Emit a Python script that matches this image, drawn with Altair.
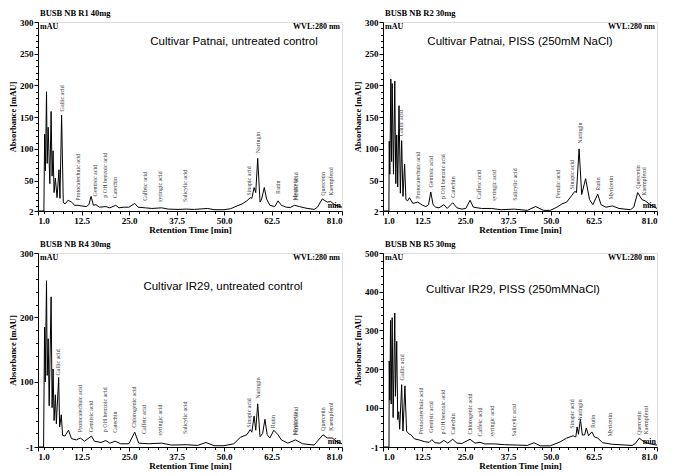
import altair as alt
import pandas as pd

# ---------------- data ----------------
# Top-left: Cultivar Patnai, untreated control
tl_time = [1.0, 2.55, 2.75, 2.95, 3.24, 3.42, 3.68, 4.11, 4.45, 4.71, 4.97, 5.23, 5.57, 6.01, 6.52, 6.78,
           7.21, 7.65, 8.08, 8.94, 9.80, 10.67, 11.53, 12.39, 13.69, 14.38, 14.98, 15.58, 16.28, 17.14,
           18.86, 19.90, 21.45, 22.32, 23.61, 24.91, 26.46, 27.32, 29.22, 30.95, 33.54, 35.26, 37.85,
           40.01, 42.17, 45.62, 47.34, 49.93, 51.66, 53.38, 54.68, 55.97, 56.84, 57.27, 57.87, 58.30,
           58.82, 59.43, 59.86, 60.55, 61.15, 62.02, 63.31, 64.17, 65.04, 66.33, 67.37, 68.49, 69.78,
           71.51, 73.67, 74.53, 75.82, 77.12, 77.98, 79.27, 81.0]
tl_abs = [2, 2, 123, 65, 190, 77, 134, 45, 159, 57, 97, 31, 54, 23, 67, 22,
          153, 16, 13, 19, 16, 11, 11, 10, 9, 12, 25, 11, 12, 8,
          9, 7, 11, 7, 8, 8, 14, 8, 7, 6, 7, 5, 4.5,
          5, 4.5, 6, 4, 4, 5.5, 10, 13, 18, 23, 22, 39, 31,
          85, 16, 21, 39, 21, 11, 9, 18, 11, 8, 7.5, 11, 9,
          6.5, 4.5, 8, 21, 16, 17, 11, 8]
tl_names = ["Gallic acid", "Protocatechuic acid", "Gentisic acid", "p OH benzoic acid", "Catechin",
            "Caffeic acid", "syringic acid", "Salicylic acid", "Sinapic acid", "Naringin", "Rutin",
            "Myricetin", "Ferulic acid", "Quercetin", "Kaempferol"]
tl_lab_t = [7.2, 11.4, 16.1, 18.7, 21.3, 29.2, 33.1, 39.6, 56.6, 59.0, 64.2, 68.6, 68.8, 76.0, 78.0]
tl_lab_y = [159, 18, 25, 23, 22, 18, 16, 16, 26, 93, 29, 18, 18, 26, 26]

# Top-right: Cultivar Patnai, PISS (250mM NaCl)
tr_time = [1.0, 2.72, 2.82, 3.0, 3.29, 3.5, 3.68, 4.06, 4.44, 4.73, 5.01, 5.3, 5.68, 6.07, 6.45, 6.83,
           7.31, 7.69, 8.2, 8.74, 9.70, 11.13, 12.57, 13.52, 14.29, 14.95, 15.62, 16.39, 17.34, 18.78,
           19.73, 21.36, 22.60, 24.03, 25.18, 26.42, 27.38, 29.77, 32.64, 35.50, 39.33, 43.15, 45.54,
           47.93, 49.84, 51.75, 53.19, 54.62, 56.05, 57.01, 57.49, 58.25, 59.01, 60.16, 61.31, 62.27,
           63.70, 64.66, 66.09, 68.0, 69.91, 73.26, 74.21, 75.36, 76.60, 77.56, 78.99, 81.0]
tr_abs = [2, 2, 112, 60, 210, 80, 203, 60, 207, 45, 122, 40, 168, 30, 113, 25,
          76, 20, 18, 23, 14, 16, 11, 9, 12, 32, 12, 8, 7, 12,
          6, 15, 7, 5, 6, 19, 8, 6, 6, 4, 5, 3, 9,
          3, 3, 8, 13, 16, 26, 33, 31, 100, 28, 53, 20, 12,
          28.5, 12, 8, 10, 6, 4, 8, 31, 20, 18, 12, 6]
tr_names = ["Gallic acid", "Protocatechuic acid", "Gentisic acid", "p OH benzoic acid", "Catechin",
            "Caffeic acid", "syringic acid", "Salicylic acid", "Ferulic acid", "Sinapic acid", "Naringin",
            "Rutin", "Myricetin", "Quercetin", "Kaempferol"]
tr_lab_t = [6.35, 11.1, 15.0, 18.6, 21.4, 29.1, 33.3, 39.5, 52.2, 56.2, 58.6, 63.9, 67.7, 75.4, 77.3]
tr_lab_y = [120, 21, 39, 21, 23, 21, 18, 18, 22, 36, 108, 34, 20, 37, 26]

# Bottom-left: Cultivar IR29, untreated control
bl_time = [1.0, 2.47, 2.73, 2.90, 3.24, 3.42, 3.68, 3.94, 4.45, 4.71, 4.97, 5.23, 5.57, 5.83, 6.44, 6.70,
           7.13, 7.48, 8.08, 9.03, 9.80, 11.10, 12.13, 13.26, 15.07, 15.84, 17.57, 18.86, 19.90, 21.28,
           22.75, 24.91, 26.46, 27.49, 30.07, 33.54, 36.13, 40.01, 43.03, 45.19, 47.34, 49.93, 52.52,
           54.25, 55.97, 56.84, 57.27, 57.87, 58.30, 58.82, 59.43, 60.12, 60.72, 61.32, 62.02, 63.05,
           64.17, 65.04, 66.76, 68.75, 70.65, 73.67, 74.53, 76.0, 77.12, 78.41, 79.70, 81.0]
bl_abs = [-1, -1, 185, 100, 257, 110, 167, 63, 232, 60, 120, 40, 80, 35, 107, 30,
          49, 17, 16, 25, 12, 10, 13, 8, 16, 8, 6, 9, 5, 8,
          4, 4, 22, 5, 4, 5, 2, 2.5, 1.5, 6, 1, 1, 4,
          14, 18, 26, 22, 47, 25, 66, 15, 20, 42, 18, 13, 25,
          18, 10, 5, 10, 4, 2, 8, 18, 13, 13, 7, 4]
bl_names = ["Gallic acid", "Protocatechuic acid", "Gentisic acid", "p OH benzoic acid", "Catechin",
            "Chlorogenic acid", "Caffeic acid", "syringic acid", "Salicylic acid", "Sinapic acid",
            "Naringin", "Rutin", "Myricetin", "Ferulic acid", "Quercetin", "Kaempferol"]
bl_lab_t = [6.35, 12.1, 15.0, 18.7, 21.2, 26.2, 29.0, 33.2, 39.6, 56.6, 59.0, 62.9, 68.6, 68.8, 76.0, 78.0]
bl_lab_y = [110, 22, 22, 22, 21, 29, 19, 17, 19, 29, 74, 28, 17, 17, 24, 24]

# Bottom-right: Cultivar IR29, PISS (250mMNaCl)
br_time = [1.0, 2.75, 2.82, 3.0, 3.20, 3.39, 3.68, 3.96, 4.44, 4.63, 5.01, 5.30, 5.59, 5.87, 6.45, 6.83,
           7.40, 7.88, 8.55, 9.22, 10.17, 11.61, 13.04, 14.48, 15.24, 16.20, 17.63, 18.78, 19.92, 21.36,
           22.60, 24.03, 26.42, 27.86, 29.30, 30.73, 33.60, 36.47, 40.29, 43.15, 45.06, 46.97, 49.84,
           52.71, 54.62, 56.53, 57.30, 57.68, 58.06, 58.63, 59.20, 59.87, 60.35, 61.02, 61.98, 62.75,
           63.70, 65.14, 68.01, 71.83, 73.74, 74.69, 75.84, 77.09, 78.52, 81.0]
br_abs = [-1, -1, 221, 120, 326, 110, 333, 75, 345, 130, 272, 70, 90, 45, 160, 40,
          157, 40, 33, 30, 20, 17, 13, 11, 18, 10, 9, 16, 9, 19,
          9, 8, 19, 9, 11, 7, 7, 5, 4, 3, 10, 2, 2,
          12, 22, 28, 25, 51, 32, 71, 30, 30, 48, 28, 38, 25,
          22, 10, 6, 4, 3, 8, 22, 13, 8, 4]
br_names = ["Gallic acid", "Protocatechuic acid", "Gentisic acid", "p OH benzoic acid", "Catechin",
            "Chlorogenic acid", "Caffeic acid", "syringic acid", "Salicylic acid", "Sinapic acid",
            "Naringin", "Rutin", "Myricetin", "Quercetin", "Kaempferol"]
br_lab_t = [6.5, 12.1, 15.0, 18.6, 21.4, 26.4, 29.3, 32.9, 39.3, 56.3, 58.4, 62.3, 67.3, 75.6, 77.8]
br_lab_y = [171, 31, 36, 31, 31, 31, 26, 26, 26, 46, 67, 48, 26, 30, 31]

headers = ["BUSB NB R1 40mg", "BUSB NB R2 30mg", "BUSB NB R4 30mg", "BUSB NB R5 30mg"]
titles = ["Cultivar Patnai, untreated control", "Cultivar Patnai, PISS (250mM NaCl)",
          "Cultivar IR29, untreated control", "Cultivar IR29, PISS (250mMNaCl)"]

x_major = [1.0, 12.5, 25.0, 37.5, 50.0, 62.5, 81.0]
x_minor = [2.5, 5, 7.5, 10, 15, 17.5, 20, 22.5, 27.5, 30, 32.5, 35, 40, 42.5, 45, 47.5,
           52.5, 55, 57.5, 60, 65, 67.5, 70, 72.5, 75, 77.5, 80]
y300_major = [2, 50, 100, 150, 200, 250, 300]
y300_minor = [10, 20, 30, 40, 60, 70, 80, 90, 110, 120, 130, 140, 160, 170, 180, 190,
              210, 220, 230, 240, 260, 270, 280, 290]
yb300_major = [-1, 100, 200, 300]
yb300_minor = [20, 40, 60, 80, 120, 140, 160, 180, 220, 240, 260, 280]
y500_major = [-1, 100, 200, 300, 400, 500]
y500_minor = [20, 40, 60, 80, 120, 140, 160, 180, 220, 240, 260, 280,
              320, 340, 360, 380, 420, 440, 460, 480]

SERIF = "Liberation Serif"
SANS = "Liberation Sans"

W_L, W_R = 304, 274
H_T, H_B = 189, 194

AX = dict(labelFont=SERIF, labelFontWeight="bold", labelFontSize=9, labelColor="black",
          titleFont=SERIF, titleFontWeight="bold", titleColor="black",
          tickColor="black", domainColor="black", tickSize=4, labelPadding=1, grid=False)
MINOR = dict(labels=False, domain=False, tickColor="black", tickSize=2.5, grid=False, title=None)


def note(text, x, y, align, size, font, weight="bold"):
    return alt.Chart(alt.Data(values=[{}])).mark_text(
        text=text, align=align, baseline="middle", font=font, fontSize=size,
        fontWeight=weight, color="black").encode(x=alt.value(x), y=alt.value(y))


def panel(times, absb, names, lt, ly, header, title, ydom, ymaj, ymin, W, H, tx, ty):
    line_df = pd.DataFrame({"t": times, "a": absb})
    lab_df = pd.DataFrame({"name": names, "t": lt, "y": ly})
    xs = alt.Scale(domain=[1, 81], nice=False, zero=False)
    ys = alt.Scale(domain=ydom, nice=False, zero=False)
    line = alt.Chart(line_df).mark_line(color="black", strokeWidth=1, clip=True).encode(
        x=alt.X("t:Q", scale=xs, axis=alt.Axis(values=x_major, format=".1f", orient="bottom",
                                                title="Retention Time [min]", titleFontSize=9,
                                                titlePadding=0, **AX)),
        y=alt.Y("a:Q", scale=ys, axis=alt.Axis(values=ymaj, labelExpr="'' + datum.value", orient="left",
                                                title="Absorbance [mAU]", titleFontSize=8.5,
                                                titlePadding=2, **AX)),
    )
    labels = alt.Chart(lab_df).mark_text(
        angle=270, align="left", baseline="middle", font=SERIF, fontSize=6, color="#3c3c3c"
    ).encode(
        x=alt.X("t:Q", scale=xs, axis=alt.Axis(values=x_minor, orient="bottom", **MINOR)),
        y=alt.Y("y:Q", scale=ys, axis=alt.Axis(values=ymin, orient="left", **MINOR)),
        text="name:N",
    )
    layers = [
        line, labels,
        note("mAU", 2, 5, "left", 8, SERIF),
        note("WVL:280 nm", W - 2, 5, "right", 8, SERIF),
        note("min", W - 1, H - 5, "right", 8, SERIF),
        note(title, tx, ty, "center", 11.5, SANS, "normal"),
    ]
    return alt.layer(*layers).resolve_axis(x="independent", y="independent").properties(
        width=W, height=H,
        title=alt.TitleParams(header, anchor="start", frame="group", font=SERIF, fontSize=8.5,
                              fontWeight="bold", color="black", offset=1, dx=2),
    )


tl = panel(tl_time, tl_abs, tl_names, tl_lab_t, tl_lab_y, headers[0], titles[0],
           [2, 300], y300_major, y300_minor, W_L, H_T, round(W_L * 0.645), 20)
tr = panel(tr_time, tr_abs, tr_names, tr_lab_t, tr_lab_y, headers[1], titles[1],
           [2, 300], y300_major, y300_minor, W_R, H_T, round(W_R * 0.5), 20)
bl = panel(bl_time, bl_abs, bl_names, bl_lab_t, bl_lab_y, headers[2], titles[2],
           [-1, 300], yb300_major, yb300_minor, W_L, H_B, round(W_L * 0.61), 34)
br = panel(br_time, br_abs, br_names, br_lab_t, br_lab_y, headers[3], titles[3],
           [-1, 500], y500_major, y500_minor, W_R, H_B, round(W_R * 0.475), 37)

chart = alt.vconcat(
    alt.hconcat(tl, tr, spacing=10),
    alt.hconcat(bl, br, spacing=10),
    spacing=4,
).properties(padding=0).configure_view(stroke="black", strokeWidth=1).configure(background="white")

chart.save("out.html", embed_options={"renderer": "svg", "actions": False})
